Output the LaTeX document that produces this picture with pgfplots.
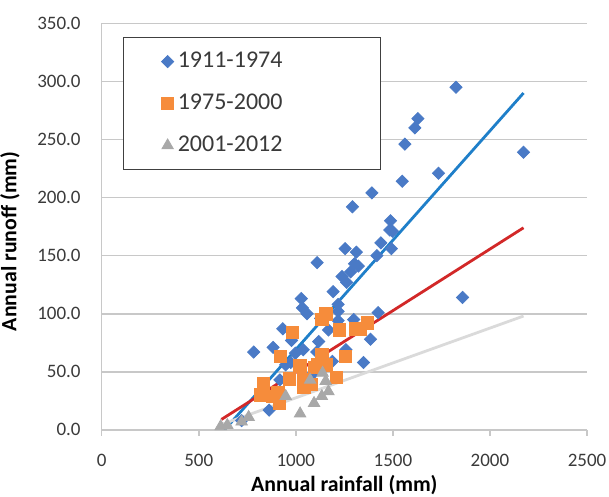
\documentclass[border=0pt]{standalone}
\usepackage{fontspec}
\setmainfont{Carlito}
\usepackage{pgfplots}
\pgfplotsset{compat=1.18}
\definecolor{cdiam}{HTML}{4A7AC6}
\definecolor{csqr}{HTML}{F68C3B}
\definecolor{ctri}{HTML}{A8A8A8}
\definecolor{lblue}{HTML}{1F7FC9}
\definecolor{lred}{HTML}{D22828}
\definecolor{lgray}{HTML}{DADADA}
\definecolor{cgrid}{HTML}{C8C8C8}
\definecolor{ctxt}{HTML}{3A3A3A}

\pgfplotstableread{
x y
1825 295
1629 268
1613 260
1562 246
2173 239
1735 221
1548 214
1392 204
1292 192
1488 180
1484 172
1498 171
1438 161
1418 150
1492 156
1254 156
1312 153
1859 114
1110 144
1302 143
1322 141
1282 136
1238 132
1262 127
1192 119
1028 113
1424 101
1218 108
1218 102
1034 105
1058 100
1349 58
1385 78
1298 95
783 67
883 71
933 87
978 77
1118 76
1108 67
1038 69
998 66
974 58
1188 59
1258 69
1218 94
1168 86
948 56
918 43
863 17
721 8
1092 49
1128 96
}\tblA
\pgfplotstableread{
x y
1154 100
1134 95
982 84
1224 86
1308 87
1369 92
1334 87
922 63
1254 63
1134 65
1022 55
1114 56
1158 56
833 40
817 30
908 32
914 23
968 44
1038 43
1042 37
1208 45
1078 39
1098 54
878 29
}\tblB
\pgfplotstableread{
x y
1138 49
1074 43
1154 42
948 29
1168 33
1134 29
1094 23
1022 14
757 11
721 7
613 3
647 4
}\tblC

\begin{document}
\begin{tikzpicture}
\begin{axis}[
  name=ax,
  width=242.7pt, height=203.3pt, scale only axis,
  xmin=0, xmax=2500, ymin=0, ymax=350,
  xtick={0,500,...,2500}, ytick={0,50,...,350},
  axis lines=left, axis line style={-, draw=cgrid, line width=0.8pt},
  ymajorgrids, grid style={cgrid, line width=0.8pt},
  y tick style={draw=none},
  x tick style={draw=cgrid, line width=0.8pt},
  xtick align=outside, major tick length=3pt,
  /pgf/number format/assume math mode=true,
  x tick label style={/pgf/number format/1000 sep={}, yshift=-5.5pt},
  y tick label style={/pgf/number format/fixed, /pgf/number format/fixed zerofill,
    /pgf/number format/precision=1, xshift=-5.5pt},
  ticklabel style={font=\fontsize{9.5}{11}\selectfont, text=ctxt},
  xlabel={\textbf{Annual rainfall (mm)}},
  ylabel={\textbf{Annual runoff (mm)}},
  label style={font=\fontsize{10.9}{13}\selectfont},
  xlabel style={yshift=2.5pt},
  ylabel style={at={(ticklabel cs:0.4635,2pt)}},
  legend style={at={(0.044,0.966)}, anchor=north west, draw=black!75,
    font=\fontsize{12}{14}\selectfont, text=ctxt,
    inner xsep=19pt, inner ysep=5pt, row sep=7pt,
    nodes={text height=8pt, text depth=2pt}},
  legend cell align=left,
]
\addplot[only marks, mark=square*, mark size=2.15pt,
  mark options={fill=cdiam, draw=cdiam, rotate=45}] table {\tblA};
\addplot[only marks, mark=square*, mark size=3.1pt,
  mark options={fill=csqr, draw=csqr}] table {\tblB};
\addplot[only marks, mark=triangle*, mark size=3.3pt,
  mark options={fill=ctri, draw=ctri}] table {\tblC};
\legend{1911-1974\hspace*{28pt},1975-2000\hspace*{28pt},2001-2012\hspace*{28pt}}
\addplot[lblue, line width=1.4pt, forget plot] coordinates {(633,0) (2173,290)};
\addplot[lred, line width=1.4pt, forget plot] coordinates {(617,9) (2173,174)};
\addplot[lgray, line width=1.4pt, forget plot] coordinates {(607,4) (2173,98)};
\end{axis}
\pgfresetboundingbox
\path[use as bounding box] ([shift={(-50.85pt,-33.5pt)}]ax.south west)
  rectangle ([shift={(11pt,11.67pt)}]ax.north east);
\end{tikzpicture}
\end{document}
